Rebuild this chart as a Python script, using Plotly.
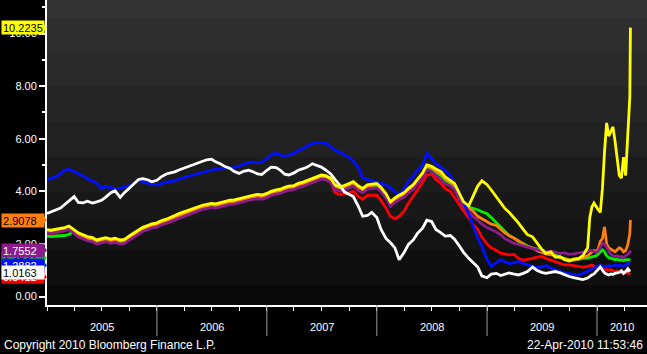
import pandas as pd
import plotly.graph_objects as go

# ---------------- data ----------------
dates = (list(pd.date_range("2005-01-01", "2009-11-15", freq="SMS"))
         + list(pd.date_range("2009-12-01", periods=20, freq="7D"))
         + list(pd.to_datetime(["2010-04-16", "2010-04-20", "2010-04-22"])))

yellow = [2.54,2.52,2.56,2.58,2.62,2.68,2.55,2.42,2.35,2.28,
          2.24,2.15,2.20,2.24,2.18,2.22,2.15,2.17,2.30,2.40,
          2.52,2.63,2.70,2.76,2.80,2.88,2.94,3.00,3.08,3.15,
          3.22,3.28,3.35,3.40,3.47,3.50,3.54,3.52,3.58,3.62,
          3.66,3.67,3.72,3.75,3.80,3.85,3.88,3.86,3.92,4.00,
          4.05,4.08,4.15,4.20,4.22,4.30,4.35,4.42,4.49,4.55,
          4.62,4.60,4.50,
          4.24,4.18,4.22,4.30,4.37,4.20,4.11,4.25,4.28,4.30,4.15,3.90,3.60,3.75,3.85,3.95,4.11,4.25,4.45,4.70,5.00,
          4.95,4.85,4.75,4.55,4.43,4.30,3.92,3.60,3.45,3.80,4.20,4.40,4.25,4.05,3.80,3.55,3.35,3.20,3.00,2.80,
          2.55,2.35,2.27,2.05,1.80,1.64,1.70,1.50,1.51,1.40,1.35,1.42,1.45,1.55,
          1.85,3.00,3.40,3.55,3.40,3.30,3.20,4.10,5.50,6.60,6.10,6.30,6.45,5.90,5.20,4.60,4.50,5.30,4.60,6.00,
          7.00,7.60,10.2235]

purple = [2.42,2.40,2.44,2.46,2.50,2.56,
          2.39,2.26,2.19,2.12,2.08,1.99,2.04,2.08,2.02,2.06,1.99,2.01,2.14,2.24,2.36,2.47,2.54,2.60,2.64,2.72,
          2.78,2.84,2.92,2.99,3.06,3.12,3.19,3.24,3.31,3.34,3.38,3.36,3.42,3.46,3.50,3.51,3.56,3.59,3.64,3.69,
          3.72,3.70,3.76,3.84,3.89,3.92,3.99,4.04,4.06,4.14,4.19,4.26,4.33,4.39,4.46,4.44,4.34,
          4.07,4.01,4.05,4.13,4.20,4.03,3.94,4.08,4.11,4.13,3.98,3.73,3.43,3.58,3.68,3.78,3.94,4.08,4.28,4.53,4.83,
          4.75,4.60,4.45,4.28,4.20,4.05,3.70,3.40,3.25,3.05,2.90,2.75,2.62,2.55,2.45,2.35,2.20,2.12,2.02,1.98,
          1.92,1.86,1.82,1.78,1.74,1.70,1.72,1.68,1.64,1.66,1.60,1.62,1.65,1.68,
          1.70,1.72,1.75,1.70,1.68,1.72,1.85,2.02,2.00,1.85,1.70,1.60,1.55,1.52,1.55,1.50,1.52,1.48,1.55,1.60,
          1.62,1.68,1.7552]

red = [2.42,2.40,2.44,2.46,2.50,2.56,2.43,2.30,2.23,2.16,2.12,2.03,2.08,2.12,2.06,2.10,2.03,2.05,2.18,2.28,
       2.40,2.51,2.58,2.64,2.68,2.76,2.82,2.88,2.96,3.03,3.10,3.16,3.23,3.28,3.35,3.38,3.42,3.40,3.46,3.50,
       3.54,3.55,3.60,3.63,3.68,3.73,3.76,3.74,3.80,3.88,3.93,3.96,4.03,4.08,4.10,4.18,4.23,4.30,4.37,4.43,
       4.50,4.48,4.38,
       3.95,3.88,3.90,3.95,4.00,3.80,3.70,3.85,3.85,3.85,3.65,3.35,3.05,2.95,3.05,3.25,3.55,3.80,4.05,4.35,4.62,
       4.65,4.45,4.30,4.10,4.00,3.75,3.45,3.25,3.00,2.75,2.55,2.25,2.00,1.85,1.75,1.65,1.62,1.58,1.60,1.45,
       1.38,1.40,1.45,1.50,1.52,1.45,1.38,1.32,1.25,1.20,1.20,1.18,1.15,1.12,
       1.15,1.18,1.20,1.15,1.10,1.12,1.18,1.10,1.05,1.02,1.00,1.02,0.98,0.95,0.98,0.92,0.90,0.88,0.92,0.90,
       0.88,0.86,0.8412]

green = [2.30,2.28,2.30,2.30,2.32,2.36,
         2.49,2.36,2.29,2.22,2.18,2.09,2.14,2.18,2.12,2.16,2.09,2.11,2.24,2.34,2.46,2.57,2.64,2.70,2.74,2.82,
         2.88,2.94,3.02,3.09,3.16,3.22,3.29,3.34,3.41,3.44,3.48,3.46,3.52,3.56,3.60,3.61,3.66,3.69,3.74,3.79,
         3.82,3.80,3.86,3.94,3.99,4.02,4.09,4.14,4.16,4.24,4.29,4.36,4.43,4.49,4.56,4.54,4.44,
         4.18,4.12,4.16,4.24,4.31,4.14,4.05,4.19,4.22,4.24,4.09,3.84,3.54,3.69,3.79,3.89,4.05,4.19,4.39,4.64,4.94,
         4.85,4.72,4.60,4.42,4.30,4.15,3.80,3.48,3.40,3.35,3.30,3.22,3.15,3.00,2.80,2.62,2.45,2.32,2.22,2.10,
         2.02,1.92,1.84,1.80,1.77,1.70,1.64,1.58,1.50,1.45,1.40,1.38,1.42,1.45,
         1.46,1.48,1.50,1.52,1.55,1.62,1.70,1.77,1.70,1.55,1.48,1.45,1.42,1.40,1.42,1.38,1.40,1.36,1.40,1.42,
         1.40,1.39,1.3837]

orange = [2.49,2.47,2.51,2.53,2.57,2.63,2.50,2.37,2.30,2.23,2.19,2.10,2.15,2.19,2.13,2.17,2.10,2.12,2.25,2.35,
          2.47,2.58,2.65,2.71,2.75,2.83,2.89,2.95,3.03,3.10,3.17,3.23,3.30,3.35,3.42,3.45,3.49,3.47,3.53,3.57,
          3.61,3.62,3.67,3.70,3.75,3.80,3.83,3.81,3.87,3.95,4.00,4.03,4.10,4.15,4.17,4.25,4.30,4.37,4.44,4.50,
          4.57,4.55,4.45,
          4.19,4.13,4.17,4.25,4.32,4.15,4.06,4.20,4.23,4.25,4.10,3.85,3.55,3.70,3.80,3.90,4.06,4.20,4.40,4.65,4.95,
          4.90,4.78,4.65,4.48,4.35,4.20,3.80,3.45,3.38,3.25,3.05,2.95,2.85,2.75,2.70,2.55,2.42,2.32,2.22,2.12,
          1.98,1.90,1.84,1.75,1.68,1.62,1.58,1.55,1.48,1.42,1.38,1.40,1.42,1.48,
          1.55,1.62,1.70,1.75,1.72,1.80,2.10,2.20,2.65,2.00,1.85,1.80,1.75,1.70,1.78,1.85,1.80,1.70,1.75,1.95,
          2.15,2.40,2.9078]

blue = [4.43,4.50,4.55,4.68,4.80,4.84,4.75,4.68,4.58,4.48,
        4.40,4.31,4.12,4.18,4.14,4.10,4.12,4.16,4.22,4.30,
        4.43,4.36,4.30,4.27,4.24,4.30,4.35,4.38,4.40,4.46,
        4.53,4.57,4.62,4.66,4.71,4.75,4.80,4.84,4.85,4.87,
        4.88,4.90,4.96,5.03,5.08,5.12,5.08,5.10,5.25,5.40,
        5.45,5.40,5.32,5.38,5.45,5.55,5.62,5.72,5.82,5.85,
        5.84,5.83,5.70,5.55,5.48,5.40,5.28,5.15,4.90,4.50,
        4.45,4.40,4.33,4.30,4.25,4.12,4.00,3.86,4.10,4.38,
        4.58,4.80,4.98,5.45,5.25,5.05,4.92,4.78,4.60,4.30,
        3.95,3.60,3.15,2.75,2.22,1.90,1.40,1.15,1.30,1.39,
        1.32,1.25,1.28,1.33,1.25,1.20,1.15,1.10,1.13,1.18,
        1.08,1.02,0.95,0.90,0.86,0.84,0.82,0.88,
        0.95,1.00,1.05,1.08,1.12,1.15,1.20,1.16,1.12,1.15,1.18,1.14,1.18,1.20,1.16,1.20,1.18,1.15,1.22,1.25,
        1.24,1.27,1.2882]

white = [3.16,3.22,3.30,3.36,3.50,3.65,3.80,3.58,3.56,3.62,
         3.55,3.60,3.66,3.78,3.95,4.02,3.77,3.95,4.12,4.28,
         4.45,4.48,4.44,4.36,4.42,4.55,4.66,4.70,4.74,4.81,
         4.88,4.93,5.00,5.08,5.13,5.20,5.22,5.12,5.04,4.94,
         4.87,4.75,4.68,4.76,4.80,4.75,4.66,4.64,4.80,4.92,
         4.90,4.80,4.65,4.62,4.70,4.80,4.86,4.92,5.05,5.00,
         4.92,4.81,4.66,4.45,4.22,3.98,3.90,3.80,3.42,3.05,
         3.08,3.20,3.00,2.55,2.20,2.05,1.85,1.40,1.68,1.98,
         2.15,2.40,2.60,2.90,2.85,2.55,2.42,2.30,2.32,2.18,
         1.92,1.68,1.45,1.28,1.12,0.78,0.72,0.85,0.88,0.80,
         0.86,0.90,0.85,0.82,0.88,0.95,1.12,1.00,0.92,0.88,
         0.92,0.95,0.90,0.82,0.76,0.72,0.68,0.64,
         0.70,0.78,0.82,0.86,0.95,1.05,1.12,1.00,0.90,0.85,0.82,0.86,0.84,0.88,0.90,0.92,0.98,0.88,0.95,1.05,
         0.98,1.00,1.0163]

years = [2005, 2006, 2007, 2008, 2009, 2010]
y_ticks = [0, 2, 4, 6, 8, 10]

# (name, values, line colour, label text colour, label centre in value units)
series = [
    ("red", red, "#ff0000", "#ffffff", 0.745),
    ("green", green, "#00ee00", "#000000", 1.46),
    ("orange", orange, "#ff7f0e", "#000000", None),
    ("purple", purple, "#8c1c8c", "#ffffff", None),
    ("blue", blue, "#0010ff", "#ffffff", 1.19),
    ("white", white, "#ffffff", "#000000", 0.905),
    ("yellow", yellow, "#ffff00", "#000000", None),
]
label_order = ["green", "blue", "red", "white", "purple", "orange", "yellow"]

for n, v, *_ in series:
    assert len(v) == len(dates), (n, len(v), len(dates))

# ---------------- layout constants ----------------
W, H = 647, 354
L, B = 47, 49
PW, PH = W - L, H - B
YMIN, YMAX = -0.323, 11.274
X0, X1 = "2005-01-01", "2010-06-16"
FONT = "Arial, Liberation Sans, sans-serif"


def px_x(p):
    return (p - L) / PW


def px_y(p):
    return (PH - p) / PH


def val_y(v):
    return (v - YMIN) / (YMAX - YMIN)


fig = go.Figure()
for name, vals, col, _, _ in series:
    fig.add_trace(go.Scatter(x=dates, y=vals, mode="lines", name=name,
                             line=dict(color=col, width=2.8),
                             hoverinfo="skip", showlegend=False))

shapes = []
# background banding
edges = [0, 18, 52, 87, 122, 157, 192, 220, 250, 285, 305]
grays = ["#333333", "#2e2e2e", "#2a2a2a", "#252525", "#212121",
         "#1c1c1c", "#181818", "#141414", "#0f0f0f", "#0a0a0a"]
for i, g in enumerate(grays):
    shapes.append(dict(type="rect", xref="paper", yref="paper", x0=0, x1=1,
                       y0=px_y(edges[i + 1]), y1=px_y(edges[i]),
                       fillcolor=g, line=dict(width=0), layer="below"))
# year separators below the axis
for yr in years[1:]:
    shapes.append(dict(type="line", xref="x", yref="paper", x0=f"{yr}-01-01", x1=f"{yr}-01-01",
                       y0=0, y1=px_y(336), line=dict(color="#9a9a9a", width=1)))

annotations = []
info = {s[0]: s for s in series}
for name in label_order:
    _, vals, col, tcol, pos = info[name]
    last = vals[-1]
    c = last if pos is None else pos
    yc = val_y(c)
    half = 6.5 / PH
    shapes.append(dict(type="path", xref="paper", yref="paper",
                       path=f"M {px_x(41.5)},{yc + half} L {px_x(47)},{yc} L {px_x(41.5)},{yc - half} Z",
                       fillcolor=col, line=dict(width=0), layer="above"))
    annotations.append(dict(xref="paper", yref="y", x=px_x(1), y=c, xanchor="left", yanchor="middle",
                            text=f"{last:.4f}", showarrow=False, align="left",
                            width=40, height=11, borderpad=1, bgcolor=col,
                            font=dict(family=FONT, size=11, color=tcol)))

# year labels centred in each period
mids = [pd.Timestamp(f"{yr}-07-02") for yr in years[:-1]]
mids.append(pd.Timestamp("2010-01-01") + (pd.Timestamp(X1) - pd.Timestamp("2010-01-01")) / 2)
for yr, m in zip(years, mids):
    annotations.append(dict(xref="x", yref="paper", x=m, y=px_y(327), text=str(yr),
                            showarrow=False, xanchor="center", yanchor="middle",
                            font=dict(family=FONT, size=11, color="#ffffff")))

annotations.append(dict(xref="paper", yref="paper", x=px_x(2), y=px_y(345),
                        text="Copyright 2010 Bloomberg Finance L.P.", showarrow=False,
                        xanchor="left", yanchor="middle",
                        font=dict(family=FONT, size=12, color="#ffffff")))
annotations.append(dict(xref="paper", yref="paper", x=px_x(645), y=px_y(345),
                        text="22-Apr-2010 11:53:46", showarrow=False,
                        xanchor="right", yanchor="middle",
                        font=dict(family=FONT, size=12, color="#ffffff")))

fig.update_layout(
    width=W, height=H, autosize=False,
    margin=dict(l=L, r=0, t=0, b=B, pad=0),
    paper_bgcolor="#000000", plot_bgcolor="#000000",
    shapes=shapes, annotations=annotations,
    xaxis=dict(type="date", range=[X0, X1], showgrid=False, zeroline=False,
               showline=True, linecolor="#ffffff", linewidth=1.5,
               ticks="outside", tickcolor="#ffffff", ticklen=4, tickwidth=1,
               dtick="M3", tick0="2005-01-01", showticklabels=False),
    yaxis=dict(range=[YMIN, YMAX], showgrid=False, zeroline=False,
               showline=True, linecolor="#ffffff", linewidth=2,
               tickmode="array", tickvals=y_ticks, tickformat=".2f",
               ticks="outside", tickcolor="#ffffff", ticklen=6, tickwidth=2,
               tickfont=dict(family=FONT, size=11, color="#ffffff"),
               minor=dict(dtick=1, tick0=0, ticks="outside", ticklen=3,
                          tickcolor="#ffffff", tickwidth=1.5)),
)

fig.write_html("out.html")
